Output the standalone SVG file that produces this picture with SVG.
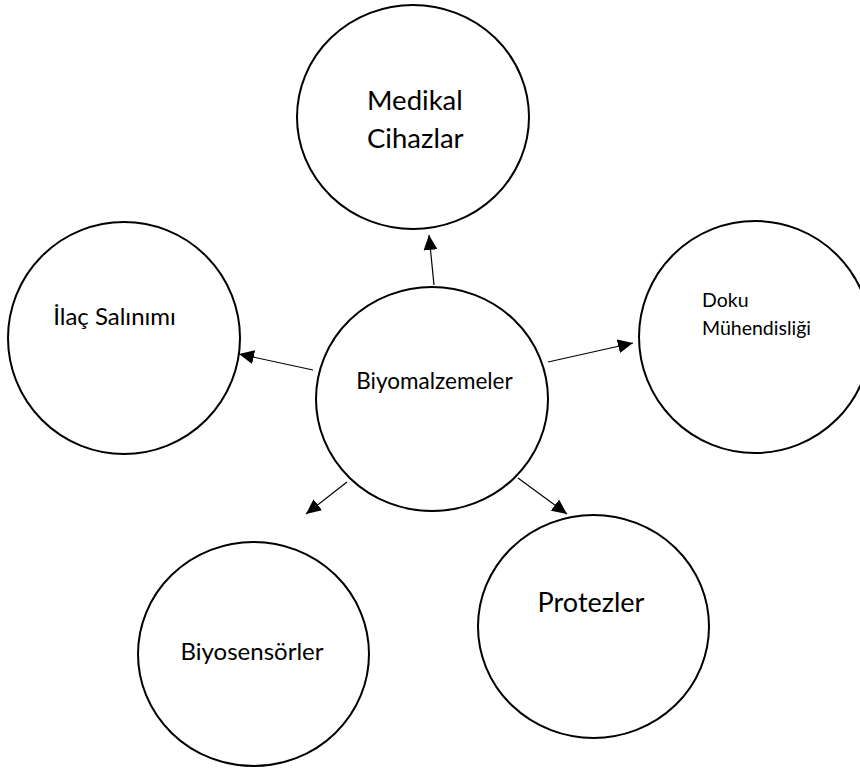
<svg xmlns="http://www.w3.org/2000/svg" width="860" height="769" viewBox="0 0 860 769">
<style>
.node{fill:#fff;stroke:#000;stroke-width:2}
.lbl{font-family:Lato,"Liberation Sans",Arial,sans-serif;fill:#000}
.mid{text-anchor:middle}
.conn{stroke:#000;stroke-width:1.2;fill:none;marker-end:url(#ah)}
</style>
<defs>
<marker id="ah" viewBox="0 0 15 14" refX="15" refY="7" markerWidth="15" markerHeight="14" markerUnits="userSpaceOnUse" orient="auto">
<path d="M0,0 L15,7 L0,14 z" fill="#000"/>
</marker>
</defs>
<rect width="860" height="769" fill="#fff"/>
<g id="medikal">
<ellipse class="node" cx="413" cy="117" rx="116" ry="112"/>
<text class="lbl" x="367" y="110" font-size="27.5">Medikal</text>
<text class="lbl" x="367" y="148" font-size="27.5">Cihazlar</text>
</g>
<g id="ilac">
<ellipse class="node" cx="124" cy="338" rx="116" ry="116"/>
<text class="lbl mid" x="114.5" y="325" font-size="24">İlaç Salınımı</text>
</g>
<g id="doku">
<ellipse class="node" cx="755" cy="337" rx="116" ry="116"/>
<text class="lbl" x="702" y="307" font-size="19.5">Doku</text>
<text class="lbl" x="702" y="335" font-size="19.5">Mühendisliği</text>
</g>
<g id="biyomalzemeler">
<ellipse class="node" cx="432" cy="399" rx="116" ry="112"/>
<text class="lbl mid" x="434.5" y="389" font-size="22.5">Biyomalzemeler</text>
</g>
<g id="biyosensorler">
<ellipse class="node" cx="253.5" cy="654" rx="115.5" ry="112"/>
<text class="lbl mid" x="252" y="660" font-size="24">Biyosensörler</text>
</g>
<g id="protezler">
<ellipse class="node" cx="593.5" cy="626.5" rx="115.5" ry="111.5"/>
<text class="lbl mid" x="591" y="612" font-size="27">Protezler</text>
</g>
<g id="connectors">
<line class="conn" x1="434" y1="285" x2="429" y2="235"/>
<line class="conn" x1="313" y1="370" x2="239" y2="354"/>
<line class="conn" x1="548" y1="362" x2="633" y2="343"/>
<line class="conn" x1="347" y1="482" x2="306" y2="514"/>
<line class="conn" x1="518" y1="478" x2="567" y2="514"/>
</g>
</svg>
